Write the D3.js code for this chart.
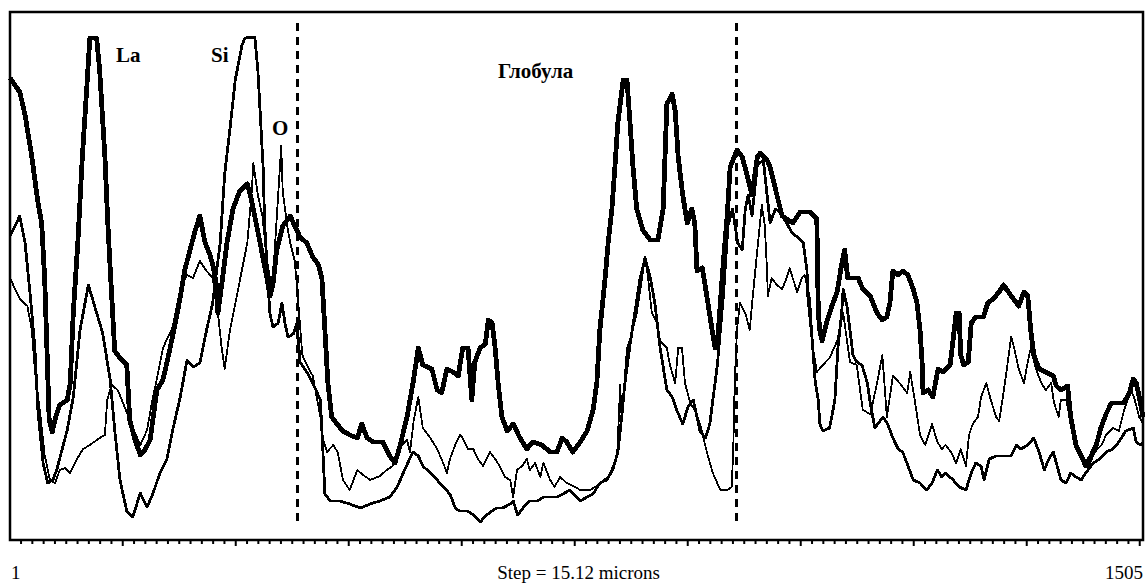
<!DOCTYPE html>
<html>
<head>
<meta charset="utf-8">
<script src="https://cdn.jsdelivr.net/npm/d3@7"></script>
<style>
  html, body { margin: 0; padding: 0; background: #fff; }
  svg { display: block; }
  text { font-family: "Liberation Serif", "DejaVu Serif", serif; fill: #000; }
</style>
</head>
<body>
<div id="root"></div>
<script>
// Line-scan profiles: [step, intensity in counts]
const laProfile = [
  [1,462],[14,448],[21,425],[30,383],[38,338],[43,317],[47,262],[50,192],[53,120],[57,108],
  [62,124],[67,135],[77,140],[81,157],[85,227],[91,297],[97,383],[103,453],[107,502],[116,502],
  [120,470],[127,383],[131,314],[136,244],[140,189],[147,182],[156,175],[160,120],[167,100],[174,85],
  [180,90],[187,100],[196,150],[204,160],[213,190],[224,230],[233,270],[240,290],[247,310],[253,324],
  [260,297],[266,286],[270,276],[276,251],[277,227],[282,255],[289,297],[297,331],[306,349],[316,356],
  [320,345],[324,331],[333,297],[342,262],[346,244],[350,255],[355,290],[363,314],[373,324],[379,314],
  [386,303],[395,297],[403,283],[410,276],[415,262],[419,210],[423,157],[428,123],[435,116],[443,109],
  [452,105],[462,102],[468,116],[475,102],[483,98],[496,98],[505,84],[512,77],[519,95],[528,123],
  [536,157],[543,192],[549,175],[561,171],[568,150],[574,147],[581,171],[589,168],[596,164],[602,192],
  [609,192],[614,140],[618,178],[625,192],[632,196],[636,220],[641,217],[645,192],[649,157],[654,123],
  [661,109],[669,116],[678,102],[687,91],[695,98],[707,95],[718,88],[727,88],[734,102],[740,98],
  [748,88],[758,98],[767,109],[775,130],[780,157],[784,210],[791,262],[795,297],[800,331],[804,373],
  [808,418],[815,460],[820,460],[824,418],[828,373],[833,331],[841,310],[851,300],[861,300],[868,331],
  [873,436],[880,446],[884,429],[888,383],[894,345],[900,317],[906,331],[910,317],[913,269],[920,272],
  [926,244],[933,210],[937,192],[941,206],[948,279],[953,324],[957,373],[966,390],[973,383],[979,366],
  [986,345],[993,383],[997,387],[1006,380],[1010,373],[1019,345],[1026,324],[1040,317],[1050,328],[1063,328],
  [1072,321],[1074,227],[1076,210],[1079,199],[1086,220],[1092,234],[1099,248],[1105,276],[1109,290],[1113,262],
  [1120,262],[1127,262],[1133,251],[1143,244],[1152,227],[1159,220],[1165,223],[1169,237],[1173,269],[1180,265],
  [1186,269],[1193,265],[1200,251],[1205,237],[1209,210],[1212,175],[1213,147],[1220,150],[1226,143],[1233,171],
  [1239,168],[1249,175],[1257,227],[1261,227],[1263,185],[1267,175],[1273,178],[1277,217],[1283,223],[1293,223],
  [1299,237],[1306,241],[1314,248],[1320,255],[1330,244],[1340,234],[1347,248],[1352,244],[1356,210],[1360,185],
  [1367,171],[1376,168],[1386,164],[1390,154],[1396,150],[1405,154],[1409,123],[1416,95],[1425,81],[1429,74],
  [1436,84],[1443,95],[1449,112],[1456,126],[1463,137],[1469,137],[1479,137],[1487,147],[1492,161],[1496,157],
  [1500,143],[1505,123]
];

const siProfile = [
  [1,304],[14,324],[21,297],[28,244],[34,192],[38,130],[45,77],[51,57],[58,60],[63,70],
  [70,90],[77,110],[85,143],[94,210],[105,255],[111,240],[116,227],[124,207],[134,160],[140,110],
  [147,60],[156,29],[164,23],[174,47],[178,40],[183,33],[191,47],[200,67],[209,80],[217,110],
  [227,143],[236,180],[244,173],[253,177],[262,210],[270,237],[280,297],[286,366],[293,411],[300,460],
  [309,495],[313,502],[326,503],[330,470],[333,429],[337,373],[339,317],[343,262],[346,227],[350,213],
  [357,217],[362,237],[366,217],[370,203],[377,206],[382,217],[386,178],[395,168],[403,157],[413,140],
  [416,95],[419,46],[426,39],[439,39],[452,36],[466,32],[479,36],[492,39],[505,43],[515,53],
  [523,67],[529,77],[536,88],[543,84],[549,74],[559,67],[568,60],[576,53],[585,46],[592,32],
  [598,29],[608,29],[616,25],[625,18],[634,25],[641,29],[647,32],[655,32],[665,36],[669,39],
  [675,25],[682,32],[691,39],[701,39],[709,43],[718,43],[727,43],[735,46],[744,50],[758,39],
  [767,43],[775,46],[784,57],[793,60],[801,70],[808,88],[813,123],[817,155],[824,195],[831,230],
  [837,260],[844,282],[851,262],[857,237],[864,192],[873,150],[880,143],[886,130],[894,116],[901,133],
  [908,140],[913,123],[917,109],[924,102],[930,116],[934,140],[940,175],[944,210],[948,244],[954,314],
  [960,331],[963,317],[967,297],[973,290],[977,331],[981,345],[986,324],[993,375],[1001,380],[1006,345],
  [1010,317],[1017,331],[1023,328],[1032,317],[1039,307],[1046,303],[1054,297],[1059,269],[1060,244],[1066,199],
  [1070,157],[1074,140],[1076,116],[1080,109],[1089,112],[1096,140],[1100,192],[1105,227],[1107,251],[1112,234],
  [1116,210],[1120,185],[1125,178],[1132,175],[1139,157],[1143,137],[1149,112],[1153,116],[1160,123],[1166,116],
  [1173,102],[1180,91],[1186,88],[1193,74],[1200,60],[1209,57],[1218,50],[1225,57],[1232,70],[1238,63],
  [1243,67],[1253,60],[1261,53],[1270,50],[1277,67],[1283,77],[1290,74],[1294,60],[1301,81],[1310,84],
  [1319,84],[1330,84],[1337,95],[1343,91],[1352,95],[1360,102],[1367,88],[1374,70],[1380,81],[1386,88],
  [1390,77],[1396,60],[1403,57],[1409,67],[1416,63],[1423,60],[1429,67],[1439,77],[1447,81],[1456,88],
  [1465,91],[1473,98],[1482,109],[1492,112],[1496,98],[1502,95],[1505,98]
];

const oProfile = [
  [1,262],[14,241],[24,234],[30,210],[34,170],[41,127],[47,85],[54,60],[61,57],[67,70],
  [74,72],[81,67],[90,81],[98,91],[107,95],[120,102],[127,105],[130,140],[136,155],[144,150],
  [151,137],[164,112],[174,95],[183,110],[190,140],[196,161],[204,192],[217,213],[227,251],[236,265],
  [244,262],[253,279],[262,269],[270,262],[277,227],[282,192],[286,171],[293,210],[302,244],[316,297],
  [322,349],[324,377],[330,345],[336,324],[343,276],[349,248],[353,297],[357,345],[361,394],[363,349],
  [369,314],[373,297],[379,279],[383,244],[389,185],[395,175],[403,164],[413,123],[416,102],[422,88],
  [430,95],[436,88],[443,60],[452,50],[462,70],[470,65],[479,60],[492,64],[501,70],[509,74],
  [515,84],[521,95],[528,100],[532,88],[537,120],[543,143],[549,112],[559,102],[568,91],[576,77],
  [581,67],[585,81],[592,95],[598,105],[602,102],[609,91],[616,91],[622,81],[629,74],[638,88],
  [645,81],[651,74],[658,63],[665,60],[669,43],[674,70],[681,74],[687,81],[691,70],[698,77],
  [705,63],[709,77],[718,60],[724,53],[731,63],[740,57],[751,53],[758,50],[771,50],[784,56],
  [797,65],[807,85],[811,155],[813,120],[820,192],[826,205],[833,227],[840,262],[844,283],[848,262],
  [853,227],[860,217],[864,199],[873,192],[877,175],[884,157],[888,192],[893,192],[897,157],[904,137],
  [910,130],[917,116],[926,88],[934,67],[944,50],[953,50],[959,53],[961,88],[963,157],[966,210],
  [970,237],[977,227],[983,210],[987,244],[994,297],[999,335],[1003,314],[1006,269],[1007,244],[1012,262],
  [1019,255],[1026,251],[1032,262],[1036,272],[1040,262],[1046,248],[1052,262],[1056,265],[1063,241],[1067,192],
  [1072,168],[1080,175],[1089,182],[1099,199],[1107,227],[1116,178],[1125,175],[1133,130],[1143,126],[1152,157],
  [1159,185],[1165,123],[1173,164],[1182,157],[1192,147],[1196,168],[1202,140],[1209,105],[1216,95],[1225,116],
  [1232,98],[1238,91],[1243,95],[1250,88],[1257,77],[1263,91],[1270,74],[1274,105],[1279,116],[1286,123],
  [1290,143],[1297,157],[1303,140],[1310,123],[1314,119],[1319,143],[1323,164],[1330,203],[1334,192],[1340,171],
  [1347,157],[1352,178],[1356,192],[1363,171],[1370,157],[1376,150],[1383,157],[1387,137],[1393,123],[1396,140],
  [1403,140],[1413,105],[1419,91],[1426,77],[1433,74],[1441,88],[1450,95],[1456,105],[1465,112],[1473,109],
  [1480,130],[1489,150],[1493,143],[1500,123],[1505,116]
];

// Globule boundaries (steps)
const boundarySteps = [382, 966];

// Axis ticks: minor every 15 steps, major every 150
const tickSteps = d3.range(15, 1501, 15);
const firstStep = 1;
const lastStep = 1505;
const stepCaption = "Step = 15.12 microns";

const width = 1146;
const height = 584;

const x = d3.scaleLinear().domain([firstStep, lastStep]).range([10, 1143]);
const y = d3.scaleLinear().domain([0, 528]).range([540, 12]);

const svg = d3.select("#root")
  .append("svg")
  .attr("width", width)
  .attr("height", height);

// Frame
svg.append("rect")
  .attr("x", x.range()[0])
  .attr("y", y.range()[1])
  .attr("width", x.range()[1] - x.range()[0])
  .attr("height", y.range()[0] - y.range()[1])
  .style("fill", "none")
  .style("stroke", "#000")
  .style("stroke-width", 2.5);

// Bottom ticks
const axis = svg.append("g")
  .attr("transform", `translate(0,${y.range()[0]})`)
  .call(d3.axisBottom(x).tickValues(tickSteps).tickSize(3).tickFormat(""));
axis.select(".domain").remove();
axis.selectAll(".tick line")
  .attr("stroke-width", 2)
  .attr("y1", 1)
  .attr("y2", d => (d % 150 === 0 ? 6 : 4));

// Dashed boundaries
svg.selectAll("line.boundary")
  .data(boundarySteps)
  .join("line")
  .attr("class", "boundary")
  .attr("x1", d => x(d))
  .attr("x2", d => x(d))
  .attr("y1", y(517))
  .attr("y2", y(15))
  .style("stroke", "#000")
  .style("stroke-width", 3)
  .style("stroke-dasharray", "8,6")
  .style("shape-rendering", "crispEdges");

// Profiles
const line = d3.line()
  .x(d => x(d[0]))
  .y(d => y(d[1]));

const series = [
  { data: oProfile, w: 1.8 },
  { data: siProfile, w: 2.8 },
  { data: laProfile, w: 4.8 }
];

svg.selectAll("path.profile")
  .data(series)
  .join("path")
  .attr("class", "profile")
  .attr("d", d => line(d.data))
  .style("fill", "none")
  .style("stroke", "#000")
  .style("stroke-width", d => d.w)
  .style("stroke-linejoin", "round")
  .style("shape-rendering", "crispEdges");

// Element labels
const label = (txt, px, py) =>
  svg.append("text")
    .attr("x", px)
    .attr("y", py)
    .style("font-size", "21px")
    .style("font-weight", "bold")
    .text(txt);
label("La", 116, 62);
label("Si", 211, 62);
label("O", 272, 135);
label("Глобула", 498, 78);

// Bottom captions
svg.append("text")
  .attr("x", x(firstStep) + 1)
  .attr("y", 579)
  .style("font-size", "19px")
  .text(firstStep);
svg.append("text")
  .attr("x", (x.range()[0] + x.range()[1]) / 2 + 2)
  .attr("y", 579)
  .attr("text-anchor", "middle")
  .style("font-size", "19px")
  .text(stepCaption);
svg.append("text")
  .attr("x", x(lastStep))
  .attr("y", 579)
  .attr("text-anchor", "end")
  .style("font-size", "19px")
  .text(lastStep);
</script>
</body>
</html>
